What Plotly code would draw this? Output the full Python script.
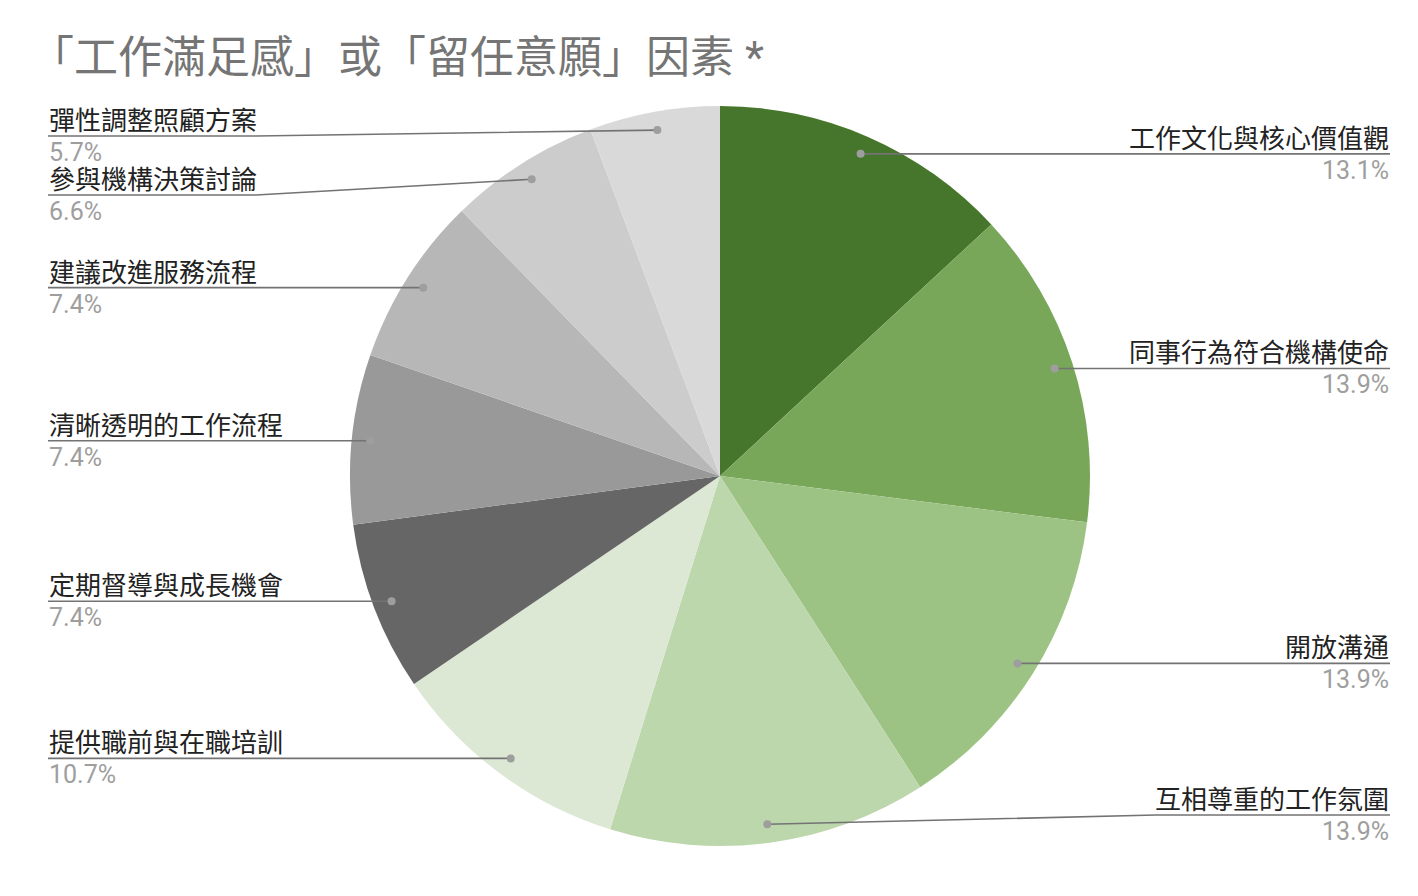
import math
import plotly.graph_objects as go

# chart data
labels = ['工作文化與核心價值觀', '同事行為符合機構使命', '開放溝通', '互相尊重的工作氛圍',
          '提供職前與在職培訓', '定期督導與成長機會', '清晰透明的工作流程', '建議改進服務流程',
          '參與機構決策討論', '彈性調整照顧方案']
values = [13.1, 13.9, 13.9, 13.9, 10.7, 7.4, 7.4, 7.4, 6.6, 5.7]
colors = ['#46762b', '#78a75a', '#9dc384', '#bdd7ad', '#dce8d4',
          '#666666', '#999999', '#b7b7b7', '#cccccc', '#d9d9d9']
title = '「工作滿足感」或「留任意願」因素 *'

# page pixels; the html body has an 8px margin
OFF = 8
W, H = 1418 - 2 * OFF, 896 - 2 * OFF
CX, CY, R = 720, 476, 370
LEFT_X, RIGHT_X = 48, 1390
Y_MIN, Y_MAX, GAP = 136, 815, 59
CJK = 'Roboto, "Noto Sans CJK TC", sans-serif'

fig = go.Figure()

fig.add_trace(go.Pie(
    labels=labels, values=values, sort=False, direction='clockwise', rotation=0,
    marker=dict(colors=colors, line=dict(width=0)), textinfo='none',
    hoverinfo='label+percent', showlegend=False,
    domain=dict(x=[(CX - R - OFF) / W, (CX + R - OFF) / W],
                y=[(H + OFF - CY - R) / H, (H + OFF - CY + R) / H]),
))

# anchor points along each slice's middle angle
total = sum(values)
acc = 0
pts = []
for i, v in enumerate(values):
    mid = (acc + v / 2) / total * 2 * math.pi
    acc += v
    dx = CX + 0.95 * R * math.sin(mid)
    dy = CY - 0.95 * R * math.cos(mid)
    pts.append((i, dx, dy, 'right' if math.sin(mid) > 0 else 'left'))

# spread labels per side so they don't overlap
ly = {}
for side in ['left', 'right']:
    s = sorted([p for p in pts if p[3] == side], key=lambda p: p[2])
    prev = None
    for i, dx, dy, _ in s:
        y = min(max(dy, Y_MIN), Y_MAX)
        if prev is not None and y < prev + GAP:
            y = prev + GAP
        ly[i] = y
        prev = y

shapes = []
annos = []
for i, dx, dy, side in pts:
    y = ly[i]
    tw = len(labels[i]) * 26
    if side == 'left':
        knee = LEFT_X + tw
        ax, anchor = LEFT_X, 'left'
    else:
        knee = RIGHT_X - tw
        ax, anchor = RIGHT_X, 'right'
    if abs(dy - y) < 1:
        path = f'M{ax},{y} L{dx},{dy}'
    else:
        path = f'M{ax},{y} L{knee},{y} L{dx},{dy}'
    shapes.append(dict(type='path', path=path, xref='x', yref='y', layer='above',
                       line=dict(color='#737373', width=1.6)))
    shapes.append(dict(type='circle', xref='x', yref='y', layer='above',
                       x0=dx - 4, x1=dx + 4, y0=dy - 4, y1=dy + 4,
                       fillcolor='#9e9e9e', line=dict(width=0)))
    annos.append(dict(x=ax, y=y + 1, xref='x', yref='y', text=labels[i], showarrow=False,
                      xanchor=anchor, yanchor='bottom', borderpad=0,
                      font=dict(family=CJK, size=26, color='#222222')))
    annos.append(dict(x=ax, y=y + 1, xref='x', yref='y', text=f'{values[i]:.1f}%', showarrow=False,
                      xanchor=anchor, yanchor='top', borderpad=0,
                      font=dict(family=CJK, size=25, color='#9e9e9e')))

annos.append(dict(x=LEFT_X - 19, y=31, xref='x', yref='y', text=title, showarrow=False,
                  xanchor='left', yanchor='top', borderpad=0,
                  font=dict(family=CJK, size=44, color='#757575')))

fig.update_layout(
    width=W, height=H, margin=dict(l=0, r=0, t=0, b=0),
    paper_bgcolor='white', plot_bgcolor='rgba(0,0,0,0)',
    xaxis=dict(range=[OFF, OFF + W], visible=False, fixedrange=True),
    yaxis=dict(range=[OFF + H, OFF], visible=False, fixedrange=True),
    annotations=annos, shapes=shapes,
)

fig.write_html('out.html')
